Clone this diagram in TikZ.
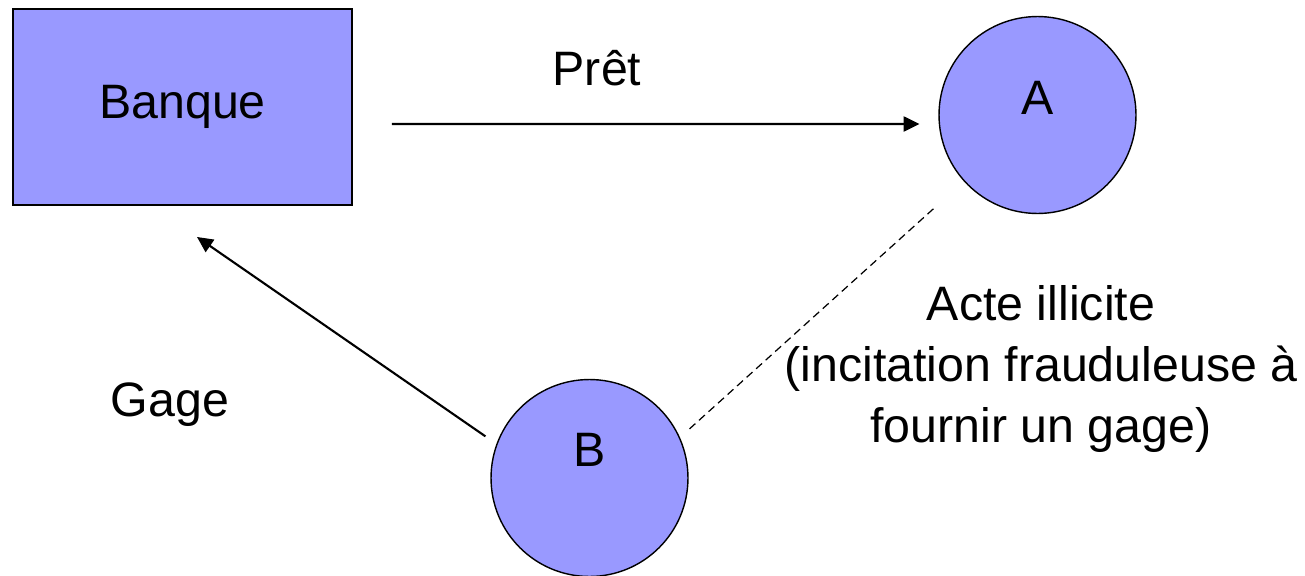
\documentclass[tikz,border=0pt]{standalone}
\usepackage{fontspec}
\setmainfont{Liberation Sans}
\usetikzlibrary{arrows.meta,positioning}
\definecolor{periwinkle}{RGB}{153,153,255}

\begin{document}
\begin{tikzpicture}[x=0.02cm,y=-0.02cm,
  bankbox/.style={rectangle, draw=black, fill=periwinkle, line width=0.8pt,
                  minimum width=6.78cm, minimum height=3.92cm, inner sep=0pt, outer sep=0pt},
  party/.style={circle, draw=black, fill=periwinkle, line width=0.8pt,
                minimum size=3.94cm, inner sep=0pt, outer sep=0pt},
  arr/.style={-{Triangle[length=9pt,width=8.5pt]}, line width=1.2pt, black},
  dashline/.style={dash pattern=on 4.5pt off 2.8pt, line width=0.7pt, black},
  every node/.style={align=center, font=\fontsize{27.5}{34.5}\selectfont}
]
\useasboundingbox (0,0) rectangle (1305,575);

\node[bankbox](bank) at (182.5,107){Banque};
\node[party, label={[yshift=0.34cm]center:A}](a) at (1037.5,115){};
\node[party, label={[yshift=0.56cm]center:B}](b) at (589.5,478){};

\node(pret) at (597,68){Prêt};
\node(gage) at (170,405){Gage};
\node(acte) at (1041,369){Acte illicite\\(incitation frauduleuse à\\fournir un gage)};

\draw[arr, shorten <=0.8cm, shorten >=0.39cm]([yshift=-0.34cm]bank.east)--([yshift=-0.18cm]a.west);
\draw[arr, shorten <=0.28cm](b.160)--([shift={(14.5,32)}]bank.south);
\draw[dashline, shorten <=0.27cm, shorten >=0.8cm](b.24)--(a.222);
\end{tikzpicture}
\end{document}
